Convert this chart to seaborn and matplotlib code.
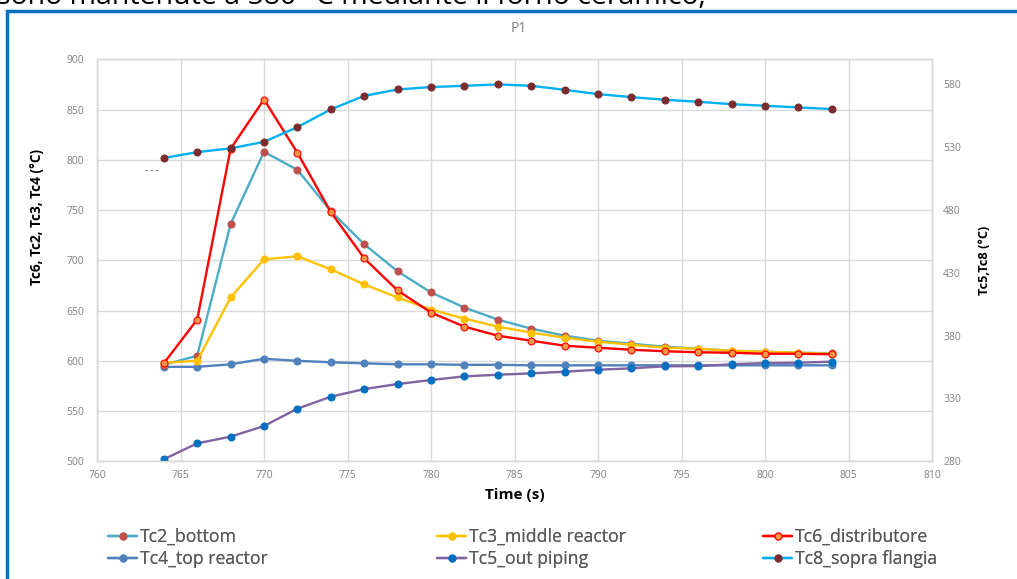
import matplotlib
matplotlib.use("Agg")
import matplotlib.pyplot as plt
import seaborn as sns
import numpy as np
from matplotlib.patches import Rectangle

# ---- data ----
time = [764, 766, 768, 770, 772, 774, 776, 778, 780, 782, 784,
        786, 788, 790, 792, 794, 796, 798, 800, 802, 804]
tc2_bottom = [596, 605, 736, 808, 790, 749, 716, 689, 668, 653, 641,
              632, 625, 620, 617, 614, 612, 610, 609, 608, 607.5]
tc3_middle = [598, 600, 663, 701, 704, 691, 676, 663, 651, 642, 634,
              628, 623, 619, 616, 613, 612, 610, 609, 608, 607]
tc6_distrib = [597.5, 641, 811, 860, 807, 748, 702, 670, 648, 634, 625,
               620, 615, 613, 611, 609.5, 608.5, 608, 607, 607, 606.5]
tc4_top = [594, 594, 596.5, 602, 600, 598.5, 597.5, 596.5, 596.5, 596, 596,
           595.5, 595.5, 595.5, 595.5, 595.5, 595.5, 595.5, 595.5, 595.5, 595.5]
tc5_out = [281.6, 294.3, 299.6, 308.1, 321.9, 331.4, 337.5, 341.5, 344.7, 347.6, 348.9,
           350.0, 351.3, 352.9, 354.0, 355.6, 355.8, 357.2, 358.2, 358.5, 359.3]
tc8_flangia = [521.4, 526.1, 529.1, 534.3, 546.0, 560.1, 570.9, 576.0, 577.9, 578.9, 580.0,
               578.9, 575.7, 572.3, 569.9, 567.8, 566.2, 564.3, 563.0, 561.7, 560.4]

labels = ["Tc2_bottom", "Tc3_middle reactor", "Tc6_distributore",
          "Tc4_top reactor", "Tc5_out piping", "Tc8_sopra flangia"]
x_ticks = list(range(760, 811, 5))
left_ticks = list(range(500, 901, 50))
right_ticks = list(range(280, 581, 50))

sns.set_theme(style="white")
plt.rcParams['font.family'] = ['Open Sans', 'DejaVu Sans']

W, H = 1017, 579
fig = plt.figure(figsize=(W / 100, H / 100), dpi=100)
fig.patch.set_facecolor("white")

def fx(px):
    return px / W

def fy(py):
    return 1 - py / H

ax = fig.add_axes([fx(97), fy(461.3), fx(932) - fx(97), fy(59.3) - fy(461.3)])
ax2 = ax.twinx()

lw = 1.7
ms = 5

def draw(axis, y, line_c, face_c, edge_c, lab):
    sns.lineplot(x=time, y=y, ax=axis, color=line_c, linewidth=lw, marker='o',
                 markersize=ms, markerfacecolor=face_c, markeredgecolor=edge_c,
                 markeredgewidth=0.8, label=lab, legend=False)
    return axis.lines[-1]

h = {}
h["Tc4_top reactor"] = draw(ax, tc4_top, "#4F81BD", "#4F81BD", "#4F81BD", "Tc4_top reactor")
h["Tc2_bottom"] = draw(ax, tc2_bottom, "#4BACC6", "#C0504D", "#C0504D", "Tc2_bottom")
h["Tc3_middle reactor"] = draw(ax, tc3_middle, "#FFC000", "#FFC000", "#FFC000", "Tc3_middle reactor")
h["Tc6_distributore"] = draw(ax, tc6_distrib, "#FF0000", "#F79646", "#FF0000", "Tc6_distributore")
h["Tc5_out piping"] = draw(ax2, tc5_out, "#8064A2", "#0070C0", "#0070C0", "Tc5_out piping")
h["Tc8_sopra flangia"] = draw(ax2, tc8_flangia, "#00B0F0", "#7B2C2C", "#7B2C2C", "Tc8_sopra flangia")

ax.set_xlim(760, 810)
ax.set_ylim(500, 900)
ax2.set_ylim(280, 600)
ax.set_xticks(x_ticks)
ax.set_yticks(left_ticks)
ax2.set_yticks(right_ticks)

grid_c = "#D9D9D9"
ax.grid(True, color=grid_c, linewidth=1.0)
ax.set_axisbelow(True)
ax2.grid(False)
for a in (ax, ax2):
    for s in a.spines.values():
        s.set_color(grid_c)
        s.set_linewidth(1.0)

tick_c = "#808080"
ax.tick_params(axis='both', length=0, labelsize=7.5, labelcolor=tick_c)
ax.tick_params(axis='y', pad=9)
ax.tick_params(axis='x', pad=6)
ax2.tick_params(axis='y', length=0, labelsize=7.5, labelcolor=tick_c, pad=8)

ax.set_xlabel("Time (s)", fontsize=11, fontweight='bold', color='black', labelpad=5)
ax.set_ylabel("Tc6, Tc2, Tc3, Tc4 (°C)", fontsize=9.8, fontweight='bold', color='black')
ax.yaxis.set_label_coords((44 - 97) / 835, (461.3 - 217) / 402)
ax2.set_ylabel("Tc5,Tc8 (°C)", fontsize=9.2, fontweight='bold', color='black', labelpad=12)

fig.text(fx(519), fy(29), "P1", fontsize=10, color="#808080", ha='center', va='center')

# small residual mark near the 800 gridline
fig.text(fx(152), fy(171), "- - -", fontsize=6.5, color="#505050", ha='center', va='center')

# cropped document text at the top
fig.text(fx(-3), fy(3.5), "sono mantenute a 580 °C mediante il forno ceramico;", fontsize=20.5,
         color='black', ha='left', va='baseline')

# blue frame of the embedded chart
fig.add_artist(Rectangle((fx(7), fy(700)), fx(1100), fy(10.5) - fy(700), transform=fig.transFigure,
                         fill=False, edgecolor="#0070C0", linewidth=2.5, clip_on=False))

# legends: three columns
cols = [(108, ["Tc2_bottom", "Tc4_top reactor"]),
        (437, ["Tc3_middle reactor", "Tc5_out piping"]),
        (763, ["Tc6_distributore", "Tc8_sopra flangia"])]
for xpx, labs in cols:
    leg = fig.legend([h[l] for l in labs], labs, loc='upper left',
                     bbox_to_anchor=(fx(xpx), fy(528)), frameon=False,
                     fontsize=12.7, handlelength=1.65, handletextpad=0.15,
                     labelspacing=0.25, borderpad=0, borderaxespad=0)
    for t in leg.get_texts():
        t.set_color("#595959")
    fig.add_artist(leg)

fig.savefig("out.png", dpi=100, facecolor="white")
